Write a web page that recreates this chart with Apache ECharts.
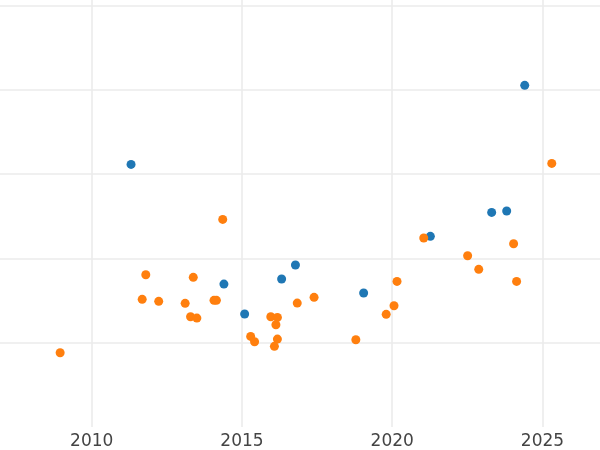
<!DOCTYPE html>
<html>
<head>
<meta charset="utf-8">
<script src="https://cdn.jsdelivr.net/npm/echarts@6/dist/echarts.min.js"></script>
<style>html,body{margin:0;padding:0;background:#fff}#c{width:600px;height:450px}</style>
</head>
<body>
<div id="c"></div>
<script>
const blueX = [2011.31, 2014.40, 2015.09, 2016.32, 2016.78, 2019.05, 2021.27, 2023.31, 2023.81, 2024.41];
const blueY = [3.114, 1.695, 1.340, 1.755, 1.921, 1.589, 2.261, 2.545, 2.561, 4.051];
const orangeX = [2008.95, 2011.80, 2011.68, 2012.23, 2013.11, 2013.38, 2013.29, 2013.50, 2014.07, 2014.15,
  2014.36, 2015.29, 2015.42, 2015.96, 2016.18, 2016.13, 2016.18, 2016.08, 2016.84, 2017.40,
  2018.79, 2019.80, 2020.06, 2020.16, 2021.05, 2022.51, 2022.88, 2024.04, 2024.14, 2025.31];
const orangeY = [0.881, 1.806, 1.514, 1.490, 1.467, 1.775, 1.308, 1.292, 1.502, 1.502,
  2.462, 1.075, 1.011, 1.308, 1.300, 1.213, 1.043, 0.957, 1.470, 1.538,
  1.035, 1.336, 1.438, 1.727, 2.241, 2.031, 1.870, 2.173, 1.727, 3.126];
const xTicks = [2005, 2010, 2015, 2020, 2025];

const chart = echarts.init(document.getElementById('c'), null, {renderer: 'canvas'});
const zip = (xs, ys) => xs.map((x, i) => [x, ys[i]]);
chart.setOption({
  animation: false,
  backgroundColor: '#fff',
  grid: {left: -58.55, right: -2.55, top: 0, bottom: 22.95, containLabel: false, outerBoundsMode: 'none'},
  xAxis: {
    type: 'value', min: xTicks[0], max: 2027, interval: 5,
    axisLine: {show: false}, axisTick: {show: false},
    axisLabel: {color: '#444', fontSize: 17, fontFamily: 'DejaVu Sans', margin: 6, showMaxLabel: false,
      formatter: v => String(v)},
    splitLine: {show: true, showMinLine: false, showMaxLine: false, lineStyle: {color: '#ebebeb', width: 1.6}}
  },
  yAxis: {
    type: 'value', min: 0, max: 5.063, interval: 1,
    axisLine: {show: false}, axisTick: {show: false}, axisLabel: {show: false},
    splitLine: {show: true, showMinLine: false, showMaxLine: false, lineStyle: {color: '#ebebeb', width: 1.6}}
  },
  series: [
    {type: 'scatter', data: zip(blueX, blueY), symbolSize: 9, itemStyle: {color: '#1f77b4', opacity: 1}},
    {type: 'scatter', data: zip(orangeX, orangeY), symbolSize: 9, itemStyle: {color: '#ff7f0e', opacity: 1}}
  ]
});
</script>
</body>
</html>
